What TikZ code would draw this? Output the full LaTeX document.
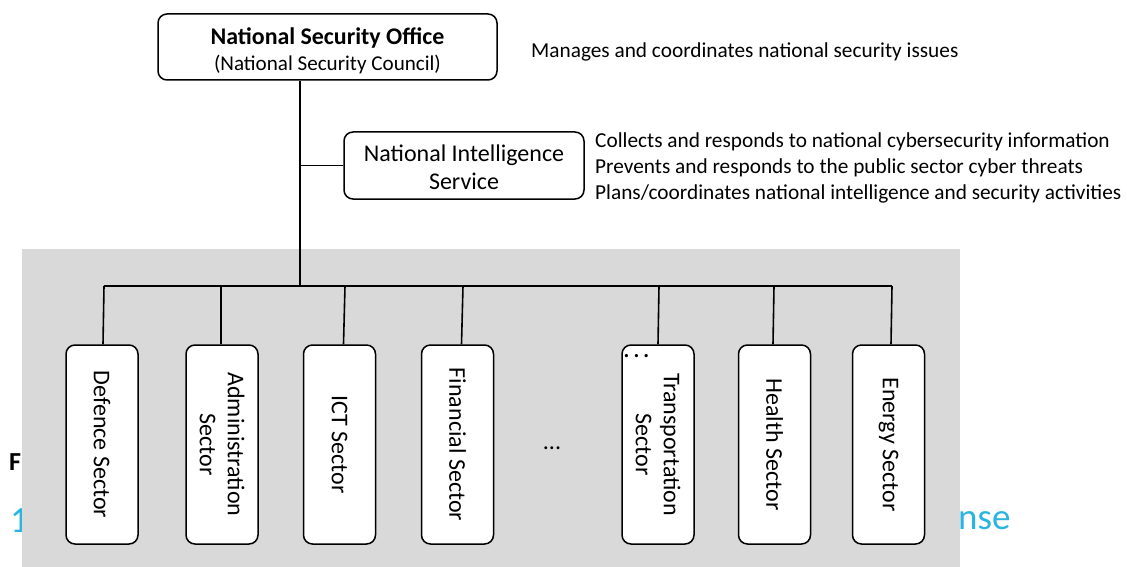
\documentclass[tikz,border=0pt]{standalone}
\usepackage{fontspec}
\setmainfont{Carlito}
\definecolor{bggray}{HTML}{D9D9D9}
\definecolor{headcyan}{HTML}{2CB4E0}
\tikzset{
  box/.style={draw, line width=1.5pt, rounded corners=9pt, fill=white, inner sep=0pt},
  sectorbox/.style={box, minimum width=72pt, minimum height=199pt},
  boxtext/.style={font=\fontsize{24}{28}\selectfont, align=center, inner sep=0pt},
  sectortext/.style={boxtext, rotate=-90},
  sidetext/.style={font=\fontsize{21.3}{26}\selectfont, align=left, anchor=west, inner sep=0pt},
  link/.style={line width=1.6pt},
}
\begin{document}
\begin{tikzpicture}[x=1pt,y=-1pt]
\useasboundingbox (0,0) rectangle (1127,567);
% partially hidden background texts
\node[font=\fontsize{26}{30}\selectfont\bfseries, anchor=west, inner sep=0pt] (fig) at (9,462) {F};
\node[font=\fontsize{37}{40}\selectfont, text=headcyan, anchor=west, inner sep=0pt] (one) at (10,521) {1};
\node[font=\fontsize{37}{40}\selectfont, text=headcyan, anchor=west, inner sep=0pt] (nse) at (958,521) {nse};
% gray panel
\fill[bggray] (22,249) rectangle (960,567);
% top boxes
\node[box, minimum width=339pt, minimum height=66pt] (nso) at (327.5,47) {};
\node[boxtext] (nsot) at (327.5,37.5) {\fontsize{23.9}{28}\selectfont\bfseries National Security Office};
\node[boxtext] (nsos) at (327.5,64) {\fontsize{21.1}{26}\selectfont (National Security Council)};
\node[box, minimum width=240pt, minimum height=67pt] (nis) at (464,165.5) {};
\node[boxtext] (nist) at (464,167.5) {National Intelligence\\Service};
\node[sidetext] (nsod) at (531,52) {Manages and coordinates national security issues};
\node[sidetext] (nisd) at (595,168) {Collects and responds to national cybersecurity information\\Prevents and responds to the public sector cyber threats\\Plans/coordinates national intelligence and security activities};
% sectors
\foreach \n/\x/\t in {s1/102/{Defence Sector}, s2/222/{Administration\\Sector}, s3/339.5/{ICT Sector}, s4/457.5/{Financial Sector}, s5/658/{Transportation\\Sector}, s6/774.5/{Health Sector}, s7/888.5/{Energy Sector}}{
  \node[sectorbox] (\n) at (\x,444.5) {};
  \node[sectortext] (\n t) at (\n.center) {\t};
}
\node[boxtext] (gap) at (552,448) {...};
\node[boxtext, anchor=west] (dots) at (623,356) {\fontsize{27}{28}\selectfont .\hspace{3pt}.\hspace{3pt}.};
% connectors
\coordinate (bj) at (300,286);
\foreach \n/\x/\d in {1/104/1, 2/221/-1, 3/345/4, 4/463/4, 5/659/0, 6/774/-1.5, 7/892/2.5}{
  \coordinate (b\n) at (\x,286);
  \draw[link] (b\n) -- ([xshift=\d pt]s\n.north);
}
\draw[link] (b1) -- (b7);
\draw[link] (nso.south -| bj) -- (bj);
\draw[link] (nis.west) -- (nis.west -| bj);
\end{tikzpicture}
\end{document}
